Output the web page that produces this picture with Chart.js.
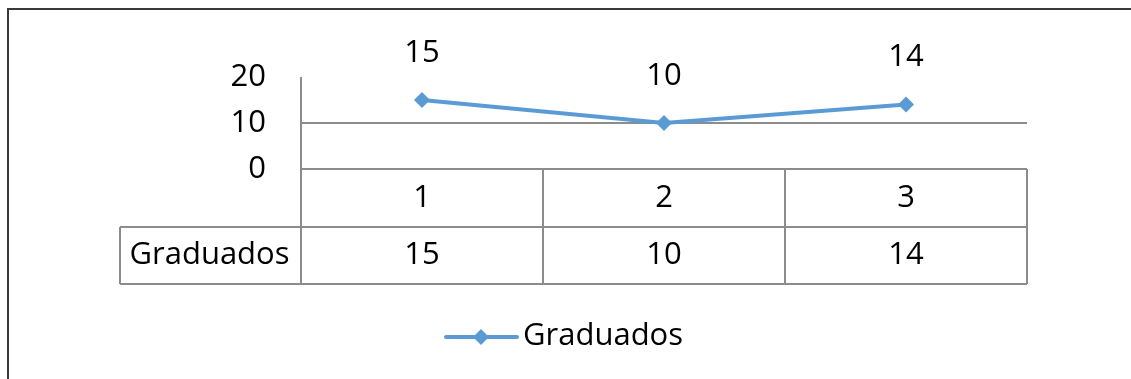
<!DOCTYPE html>
<html>
<head>
<meta charset="utf-8">
<script src="https://cdn.jsdelivr.net/npm/chart.js@4"></script>
<style>
  html, body { margin: 0; padding: 0; background: #fff; }
  #wrap { position: relative; width: 1131px; height: 379px; }
</style>
</head>
<body>
<div id="wrap"><canvas id="myChart"></canvas></div>
<script>
var categories = ["1", "2", "3"];
var graduados = [15, 10, 14];
var seriesName = "Graduados";
var yTicks = [0, 10, 20];

var lineColor = "#5b9bd5";
var gridColor = "#8c8c8c";
var textFont = "'Open Sans', sans-serif";
var textSize = 31;

// draws the frame, value labels, data table under the x axis and the legend
var tablePlugin = {
  id: "tablePlugin",
  afterDraw: function(chart) {
    var ctx = chart.ctx;
    var area = chart.chartArea;
    var x = chart.scales.x;
    var meta = chart.getDatasetMeta(0);
    var row1 = area.bottom + 58;
    var row2 = row1 + 57;
    var headLeft = 120;

    ctx.save();

    // outer frame
    ctx.strokeStyle = "#3a3a3a";
    ctx.lineWidth = 2;
    ctx.beginPath();
    ctx.moveTo(8, chart.height + 2);
    ctx.lineTo(8, 9);
    ctx.lineTo(chart.width + 2, 9);
    ctx.stroke();

    // table lines
    ctx.strokeStyle = gridColor;
    ctx.lineWidth = 2;
    ctx.beginPath();
    ctx.moveTo(area.left, area.bottom);
    ctx.lineTo(area.right, area.bottom);
    ctx.moveTo(headLeft, row1);
    ctx.lineTo(area.right, row1);
    ctx.moveTo(headLeft, row2);
    ctx.lineTo(area.right, row2);
    ctx.moveTo(headLeft, row1);
    ctx.lineTo(headLeft, row2);
    ctx.moveTo(area.left, area.top);
    ctx.lineTo(area.left, row2);
    var step = (area.right - area.left) / categories.length;
    for (var i = 1; i <= categories.length; i++) {
      var cx = area.left + step * i;
      ctx.moveTo(cx, area.bottom);
      ctx.lineTo(cx, row2);
    }
    ctx.stroke();

    // table texts
    ctx.fillStyle = "#000";
    ctx.font = textSize + "px " + textFont;
    ctx.textAlign = "center";
    ctx.textBaseline = "middle";
    categories.forEach(function(c, i) {
      var px = x.getPixelForValue(i);
      ctx.fillText(c, px, (area.bottom + row1) / 2);
      ctx.fillText(String(graduados[i]), px, (row1 + row2) / 2);
    });
    ctx.fillText(seriesName, (headLeft + area.left) / 2 - 1, (row1 + row2) / 2);

    // value labels above the points
    meta.data.forEach(function(pt, i) {
      ctx.fillText(String(graduados[i]), pt.x, pt.y - 47);
    });

    // legend
    var ly = 337;
    ctx.strokeStyle = lineColor;
    ctx.lineWidth = 4;
    ctx.lineCap = "round";
    ctx.beginPath();
    ctx.moveTo(446, ly);
    ctx.lineTo(517, ly);
    ctx.stroke();
    ctx.fillStyle = lineColor;
    ctx.beginPath();
    ctx.moveTo(481, ly - 8);
    ctx.lineTo(489, ly);
    ctx.lineTo(481, ly + 8);
    ctx.lineTo(473, ly);
    ctx.closePath();
    ctx.fill();
    ctx.fillStyle = "#000";
    ctx.textAlign = "left";
    ctx.fillText(seriesName, 523, ly - 1);

    ctx.restore();
  }
};

var ctx = document.getElementById("myChart").getContext("2d");
var chart = new Chart(ctx, {
  type: "line",
  data: {
    labels: categories,
    datasets: [{
      label: seriesName,
      data: graduados,
      borderColor: lineColor,
      backgroundColor: lineColor,
      borderWidth: 4,
      pointStyle: "rectRot",
      pointRadius: 8,
      pointBorderWidth: 0,
      tension: 0
    }]
  },
  options: {
    responsive: true,
    maintainAspectRatio: false,
    animation: false,
    layout: { padding: { left: 0, top: 77, right: 104, bottom: 210 } },
    plugins: {
      legend: { display: false },
      tooltip: { enabled: false }
    },
    scales: {
      x: {
        display: false,
        offset: true
      },
      y: {
        min: yTicks[0],
        max: yTicks[yTicks.length - 1],
        afterFit: function(scale) { scale.width = 301; },
        afterBuildTicks: function(scale) {
          scale.ticks = yTicks.map(function(v) { return { value: v }; });
        },
        border: { display: false },
        grid: {
          drawTicks: false,
          lineWidth: 2,
          color: function(c) { return c.tick && c.tick.value === 10 ? gridColor : "rgba(0,0,0,0)"; }
        },
        ticks: {
          padding: 35,
          color: "#000",
          font: { family: textFont, size: textSize }
        }
      }
    }
  },
  plugins: [tablePlugin]
});
</script>
</body>
</html>
